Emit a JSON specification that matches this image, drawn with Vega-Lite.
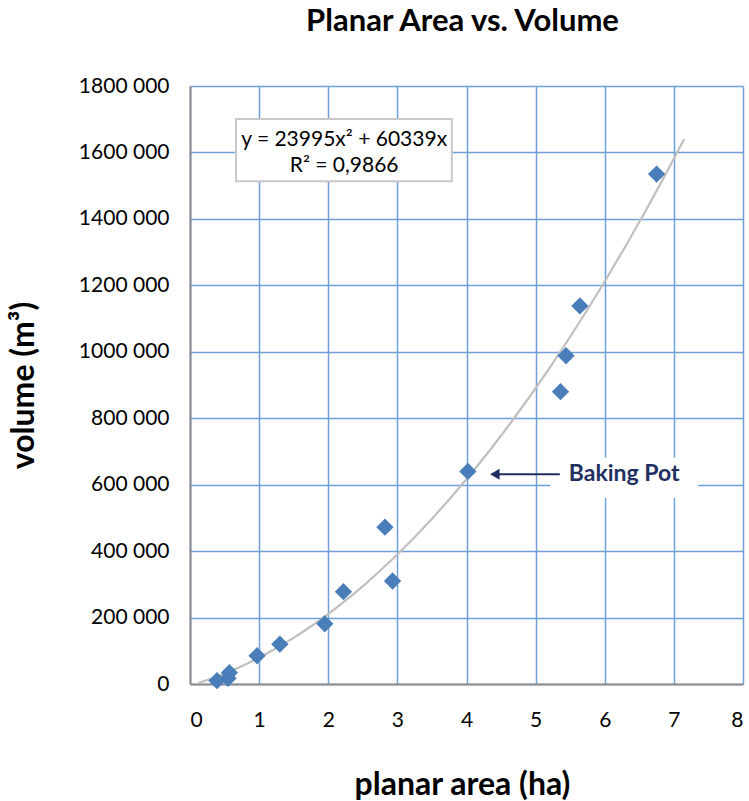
{
  "$schema": "https://vega.github.io/schema/vega-lite/v6.json",
  "autosize": "none",
  "padding": {"left": 190, "top": 86, "right": 6, "bottom": 117},
  "width": 553,
  "height": 598,
  "background": "white",
  "title": {
    "text": "Planar  Area vs. Volume",
    "font": "Lato",
    "fontSize": 31,
    "fontWeight": "bold",
    "color": "#000000",
    "anchor": "middle",
    "frame": "group",
    "baseline": "alphabetic",
    "offset": 13,
    "dx": -4
  },
  "config": {
    "view": {"stroke": null},
    "axis": {
      "labelFont": "Lato",
      "labelFontSize": 21,
      "labelColor": "#000000",
      "titleFont": "Lato",
      "titleFontSize": 32,
      "titleFontWeight": "bold",
      "titleColor": "#000000",
      "gridColor": "#6f9fd8",
      "gridWidth": 1.5,
      "gridOpacity": 1,
      "domainColor": "#8c8c8c",
      "domainWidth": 2,
      "ticks": false
    }
  },
  "datasets": {
    "points": [
      {"area": 0.39, "volume": 10000},
      {"area": 0.55, "volume": 17000},
      {"area": 0.57, "volume": 34000},
      {"area": 0.97, "volume": 85000},
      {"area": 1.30, "volume": 120000},
      {"area": 1.95, "volume": 181000},
      {"area": 2.22, "volume": 278000},
      {"area": 2.82, "volume": 472000},
      {"area": 2.93, "volume": 310000},
      {"area": 4.02, "volume": 640000},
      {"area": 5.36, "volume": 880000},
      {"area": 5.44, "volume": 988000},
      {"area": 5.64, "volume": 1138000},
      {"area": 6.75, "volume": 1535000}
    ],
    "boxes": [
      {"x1": 0.666, "x2": 3.787, "y1": 1512950, "y2": 1700900, "kind": "eq"},
      {"x1": 5.21, "x2": 7.35, "y1": 560240, "y2": 680700, "kind": "label"}
    ],
    "eqtext": [
      {"area": 2.23, "volume": 1636000, "label": "y = 23995x² + 60339x"},
      {"area": 2.23, "volume": 1560000, "label": "R² = 0,9866"}
    ],
    "annot": [
      {"area": 6.28, "volume": 632000, "label": "Baking Pot"}
    ],
    "arrow": [
      {"a1": 4.41, "a2": 5.35, "volume": 631600}
    ],
    "arrowhead": [
      {"area": 4.41, "volume": 631600}
    ]
  },
  "layer": [
    {
      "data": {"name": "boxes"},
      "mark": {"type": "rect"},
      "encoding": {
        "x": {"field": "x1", "type": "quantitative", "scale": {"domain": [0, 8], "nice": false},
          "axis": {"values": [0,1,2,3,4,5,6,7,8], "format": "d", "title": "planar area (ha)", "labelPadding": 25, "titleX": 272, "titleY": 110, "titleBaseline": "alphabetic"}},
        "x2": {"field": "x2"},
        "y": {"field": "y1", "type": "quantitative", "scale": {"domain": [0, 1800000], "nice": false},
          "axis": {"values": [0,200000,400000,600000,800000,1000000,1200000,1400000,1600000,1800000], "title": "volume (m³)", "labelPadding": 21, "labelExpr": "datum.value == 0 ? '0' : floor(datum.value/1000) + ' 000'", "titleX": -157, "titleY": 299, "titleBaseline": "alphabetic"}},
        "y2": {"field": "y2"},
        "fill": {"value": "white"},
        "stroke": {"condition": {"test": "datum.kind == 'eq'", "value": "#c8c8c8"}, "value": null},
        "strokeWidth": {"value": 2}
      }
    },
    {
      "data": {"name": "points"},
      "transform": [
        {"regression": "volume", "on": "area", "method": "poly", "order": 2, "extent": [0.12, 7.15]}
      ],
      "mark": {"type": "line", "color": "#bfbfbf", "strokeWidth": 2.2},
      "encoding": {
        "x": {"field": "area", "type": "quantitative"},
        "y": {"field": "volume", "type": "quantitative"}
      }
    },
    {
      "data": {"name": "points"},
      "mark": {"type": "point", "shape": "diamond", "filled": true, "size": 300, "color": "#4a7ebb", "opacity": 1},
      "encoding": {
        "x": {"field": "area", "type": "quantitative"},
        "y": {"field": "volume", "type": "quantitative"}
      }
    },
    {
      "data": {"name": "eqtext"},
      "mark": {"type": "text", "font": "Lato", "fontSize": 21, "color": "#000000", "align": "center", "baseline": "middle"},
      "encoding": {
        "x": {"field": "area", "type": "quantitative"},
        "y": {"field": "volume", "type": "quantitative"},
        "text": {"field": "label"}
      }
    },
    {
      "data": {"name": "annot"},
      "mark": {"type": "text", "font": "Lato", "fontSize": 23, "fontWeight": "bold", "color": "#1f2f5f", "align": "center", "baseline": "middle"},
      "encoding": {
        "x": {"field": "area", "type": "quantitative"},
        "y": {"field": "volume", "type": "quantitative"},
        "text": {"field": "label"}
      }
    },
    {
      "data": {"name": "arrow"},
      "mark": {"type": "rule", "color": "#1f2f5f", "strokeWidth": 2},
      "encoding": {
        "x": {"field": "a1", "type": "quantitative"},
        "x2": {"field": "a2"},
        "y": {"field": "volume", "type": "quantitative"}
      }
    },
    {
      "data": {"name": "arrowhead"},
      "mark": {"type": "point", "shape": "triangle-left", "filled": true, "size": 120, "color": "#1f2f5f", "opacity": 1},
      "encoding": {
        "x": {"field": "area", "type": "quantitative"},
        "y": {"field": "volume", "type": "quantitative"}
      }
    }
  ]
}
